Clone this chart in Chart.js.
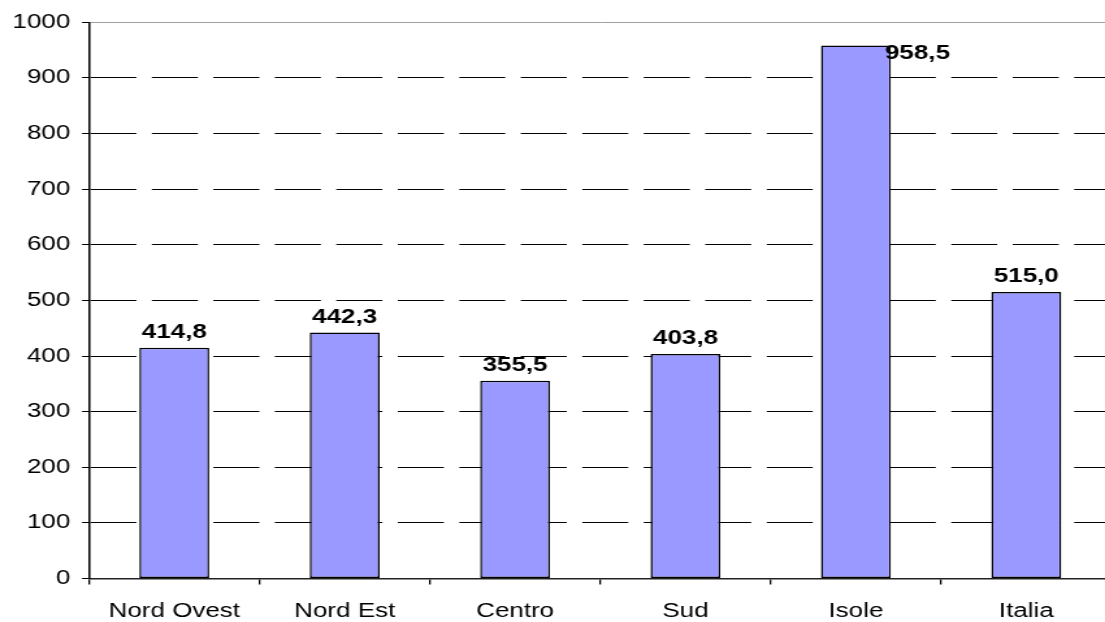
<!DOCTYPE html>
<html>
<head>
<meta charset="utf-8">
<script src="https://cdn.jsdelivr.net/npm/chart.js@4/dist/chart.umd.min.js"></script>
<style>
  html, body { margin:0; padding:0; background:#fff; overflow:hidden; }
  #wrap { width:1105px; height:622px; overflow:hidden; }
  #chart { display:block; }
</style>
</head>
<body>
<!-- the reference is an Excel chart stretched sideways, so the canvas is stretched too (inline style so Chart.js keeps it) -->
<div id="wrap"><canvas id="chart" width="860" height="622" style="width:1118px;height:622px"></canvas></div>
<script>
const regioni = ['Nord Ovest', 'Nord Est', 'Centro', 'Sud', 'Isole', 'Italia'];
const valori  = [414.8, 442.3, 355.5, 403.8, 958.5, 515.0];
const yTicks  = [0, 100, 200, 300, 400, 500, 600, 700, 800, 900, 1000];

const FONT = '"Liberation Sans", Arial, sans-serif';
const fmt = (v)=> v.toFixed(1).replace('.', ',');

const valueLabels = {
  id: 'valueLabels',
  afterDatasetsDraw(chart){
    const {ctx, chartArea} = chart;
    const ds = chart.data.datasets[0];
    ctx.save();
    ctx.fillStyle = '#000';
    ctx.font = 'bold 20px ' + FONT;
    ctx.textBaseline = 'alphabetic';
    chart.getDatasetMeta(0).data.forEach((bar, i)=>{
      const txt = fmt(ds.data[i]);
      let y = bar.y - 10;
      if (y - 15 < chartArea.top){
        // no room above: Excel pushes it to the right of the bar
        ctx.textAlign = 'left';
        ctx.fillText(txt, bar.x + bar.width/2 - 4.5, bar.y + 14);
      } else {
        ctx.textAlign = 'center';
        ctx.fillText(txt, bar.x, y);
      }
    });
    ctx.restore();
  }
};

new Chart(document.getElementById('chart').getContext('2d'), {
  type:'bar',
  data:{ labels:regioni, datasets:[{
    data:valori, backgroundColor:'#9999ff', borderColor:'#000', borderWidth:1.5,
    borderSkipped:false, categoryPercentage:1, barPercentage:0.41
  }]},
  options:{
    responsive:false, animation:false, devicePixelRatio:1,
    layout:{ padding:{ left:0, right:5, top:22.3, bottom:0 } },
    plugins:{ legend:{ display:false }, tooltip:{ enabled:false } },
    scales:{
      x:{
        offset:true,
        grid:{ display:true, offset:true, drawOnChartArea:false, drawTicks:true, tickLength:6, color:'#000', lineWidth:1.3 },
        border:{ display:true, color:'#222', width:1.5 },
        ticks:{ color:'#000', font:{ family:FONT, size:20 }, padding:15, maxRotation:0, autoSkip:false },
        afterFit:(s)=>{ s.height = 43.4; }
      },
      y:{
        min:0, max:1000,
        afterBuildTicks:(s)=>{ s.ticks = yTicks.map(v=>({value:v})); },
        grid:{
          color:(c)=> c.tick && c.tick.value === 1000 ? '#a0a0a0' : '#000',
          tickColor:'#000', lineWidth:1, tickLength:5.4, drawTicks:true
        },
        border:{ display:true, color:'#000', width:1.5, dash:(c)=> c.tick && c.tick.value === 1000 ? [] : [35.4, 11.9] },
        ticks:{ color:'#000', font:{ family:FONT, size:20 }, padding:9, autoSkip:false, callback:(v)=> String(v) },
        afterFit:(s)=>{ s.width = 68.5; }
      }
    }
  },
  plugins:[valueLabels]
});
</script>
</body>
</html>
